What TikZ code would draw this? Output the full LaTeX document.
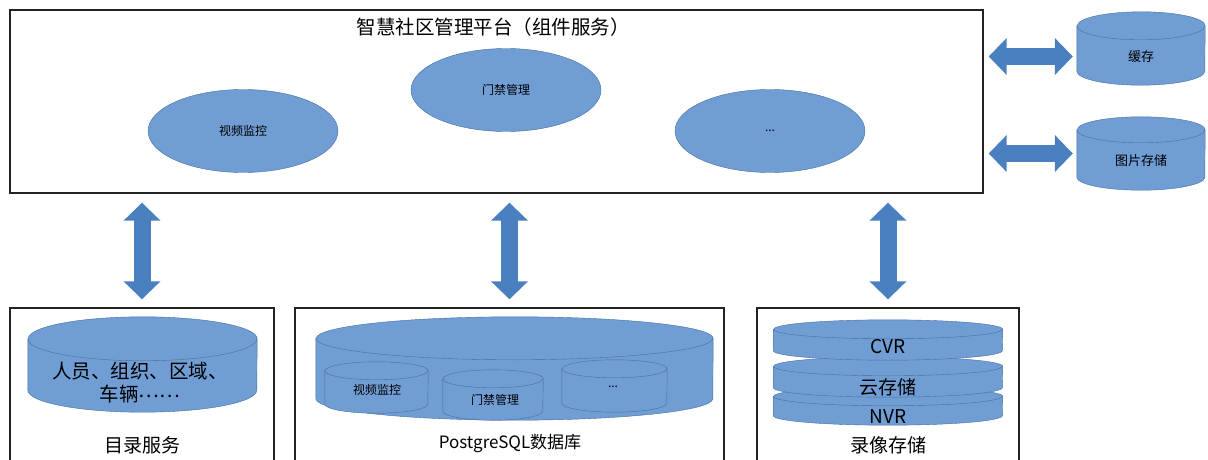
\documentclass[tikz,border=0pt]{standalone}
\usepackage{fontspec}
\setmainfont{Noto Sans CJK SC}
\usetikzlibrary{positioning,shapes.geometric,arrows.meta}
\definecolor{fillblue}{RGB}{112,157,212}
\definecolor{lineblue}{RGB}{68,110,158}
\definecolor{arrowblue}{RGB}{74,128,192}
\definecolor{framegray}{RGB}{35,35,35}

% drum: name, position, width, height, end radius
\newcommand{\drum}[5]{%
    \node at #2 [minimum width=#3pt, minimum height=#4pt, inner sep=0pt] (#1) {};
    \draw [lineblue, fill=fillblue] ([yshift=-#5pt]#1.north west) -- ([yshift=#5pt]#1.south west)
        arc [start angle=180, end angle=360, x radius=#3pt/2, y radius=#5pt]
        -- ([yshift=-#5pt]#1.north east)
        arc [start angle=0, end angle=180, x radius=#3pt/2, y radius=#5pt] -- cycle;
    \draw [lineblue] ([yshift=-#5pt]#1.north west)
        arc [start angle=180, end angle=360, x radius=#3pt/2, y radius=#5pt];
}

\begin{document}
\begin{tikzpicture}[x=1pt,y=-1pt,
    frame/.style={rectangle, draw=framegray, line width=1.4pt, inner sep=0pt},
    oval/.style={ellipse, draw=lineblue, fill=fillblue, minimum width=190pt, minimum height=83pt, inner sep=0pt, font=\fontsize{12}{14}\selectfont},
    fat/.style={arrowblue, line width=17pt, {Triangle[width=36pt,length=18pt]}-{Triangle[width=36pt,length=18pt]}}]
    \useasboundingbox (0,0) rectangle (1208,460);

    % platform
    \node at (496.5,101.5) [frame, minimum width=973pt, minimum height=183pt] (plat) {};
    \node at (493,27) [font=\fontsize{19.5}{21}\selectfont] (title) {智慧社区管理平台（组件服务）};
    \node at (243,131) [oval] (video) {视频监控};
    \node at (506,90) [oval] (door) {门禁管理};
    \node at (770,131) [oval] (etc) {...};

    % side stores
    \drum{cache}{(1141,48.5)}{128}{73}{14}
    \node at (1141,57) [font=\fontsize{13}{15}\selectfont] (cachetxt) {缓存};
    \drum{pics}{(1141,153.5)}{128}{73}{13}
    \node at (1141,161) [font=\fontsize{13}{15}\selectfont] (picstxt) {图片存储};

    % bottom boxes
    \node at (142,385) [frame, minimum width=264pt, minimum height=154pt] (dirbox) {};
    \node at (509.5,385) [frame, minimum width=429pt, minimum height=154pt] (pgbox) {};
    \node at (888,385) [frame, minimum width=262pt, minimum height=154pt] (recbox) {};

    \drum{dir}{(142.5,364.5)}{229}{95}{22}
    \node at (140,383) [align=center, font=\fontsize{19.5}{23}\selectfont] (dirtxt) {人员、组织、区域、\\车辆\raisebox{4pt}{……}};
    \node at (142,445) [font=\fontsize{19}{21}\selectfont] (dirlbl) {目录服务};

    \drum{pg}{(514.5,368.5)}{397}{103}{21.5}
    \drum{pgvideo}{(376.5,387.5)}{103}{51}{9}
    \node at (377,390) [font=\fontsize{12}{14}\selectfont] (pgvideotxt) {视频监控};
    \drum{pgdoor}{(493,395)}{100}{50}{9}
    \node at (495,400) [font=\fontsize{12}{14}\selectfont] (pgdoortxt) {门禁管理};
    \drum{pgetc}{(614.5,386)}{105}{52}{9}
    \node at (613,387) [font=\fontsize{12}{14}\selectfont] (pgetctxt) {...};
    \node at (510,443) [font=\fontsize{17}{19}\selectfont] (pglbl) {PostgreSQL数据库};

    \drum{nvr}{(888,406)}{229}{38}{9.5}
    \node at (888,417) [font=\fontsize{19}{21}\selectfont] (nvrtxt) {NVR};
    \drum{cloud}{(888,377)}{229}{40}{9.5}
    \node at (888,387) [font=\fontsize{19}{21}\selectfont] (cloudtxt) {云存储};
    \drum{cvr}{(888,340)}{229}{40}{9.5}
    \node at (888,347) [font=\fontsize{19}{21}\selectfont] (cvrtxt) {CVR};
    \node at (888,445) [font=\fontsize{19}{21}\selectfont] (reclbl) {录像存储};

    % links
    \draw [fat, shorten <=5pt, shorten >=4pt] ([yshift=-8pt]plat.east |- cache.west) -- ([yshift=-8pt]cache.west);
    \draw [fat, shorten <=5pt, shorten >=4pt] (plat.east |- pics.west) -- (pics.west);
    \draw [fat, shorten <=9pt, shorten >=8pt] (plat.south -| dirbox.north) -- (dirbox.north);
    \draw [fat, shorten <=9pt, shorten >=8pt] (plat.south -| pgbox.north) -- (pgbox.north);
    \draw [fat, shorten <=9pt, shorten >=8pt] (plat.south -| recbox.north) -- (recbox.north);
\end{tikzpicture}
\end{document}
